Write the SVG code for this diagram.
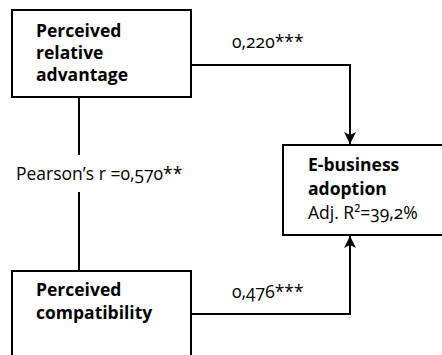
<svg xmlns="http://www.w3.org/2000/svg" width="442" height="355" viewBox="0 0 442 355">
  <style>
    .box { fill: #fff; stroke: #000; stroke-width: 2; }
    .edge { fill: none; stroke: #000; stroke-width: 2; }
    .title { font-family: "Open Sans", "Liberation Sans", sans-serif; font-weight: bold; font-size: 17.5px; fill: #000; }
    .lbl { font-family: "Open Sans", "Liberation Sans", sans-serif; font-size: 17.5px; fill: #000; font-variant-numeric: oldstyle-nums; }
  </style>
  <defs>
    <marker id="arrow" viewBox="0 0 12 14" refX="12" refY="7" markerWidth="12" markerHeight="14" markerUnits="userSpaceOnUse" orient="auto">
      <path d="M0,1 L12,7 L0,13 L3,7 Z" fill="#000"/>
    </marker>
  </defs>

  <g id="node-advantage">
    <rect class="box" x="12" y="10" width="179" height="87"/>
    <text class="title" x="36" y="37">Perceived</text>
    <text class="title" x="36" y="59">relative</text>
    <text class="title" x="36" y="81">advantage</text>
  </g>

  <g id="node-compatibility">
    <rect class="box" x="12" y="271" width="179" height="100"/>
    <text class="title" x="36" y="296">Perceived</text>
    <text class="title" x="36" y="319">compatibility</text>
  </g>

  <g id="node-adoption">
    <rect class="box" x="283" y="145" width="170" height="90"/>
    <text class="title" x="308" y="171">E-business</text>
    <text class="title" x="308" y="195">adoption</text>
    <text class="lbl" x="308" y="219">Adj. R²=39,2%</text>
  </g>

  <g id="connectors">
    <path class="edge" d="M191,65 H350 V144" marker-end="url(#arrow)"/>
    <path class="edge" d="M191,314 H350 V236" marker-end="url(#arrow)"/>
    <path class="edge" d="M79,97 V155"/>
    <path class="edge" d="M79,192 V271"/>
    <text class="lbl" x="232" y="48">0,220***</text>
    <text class="lbl" x="232" y="298">0,476***</text>
    <text class="lbl" x="16" y="180">Pearson’s r =0,570**</text>
  </g>
</svg>
